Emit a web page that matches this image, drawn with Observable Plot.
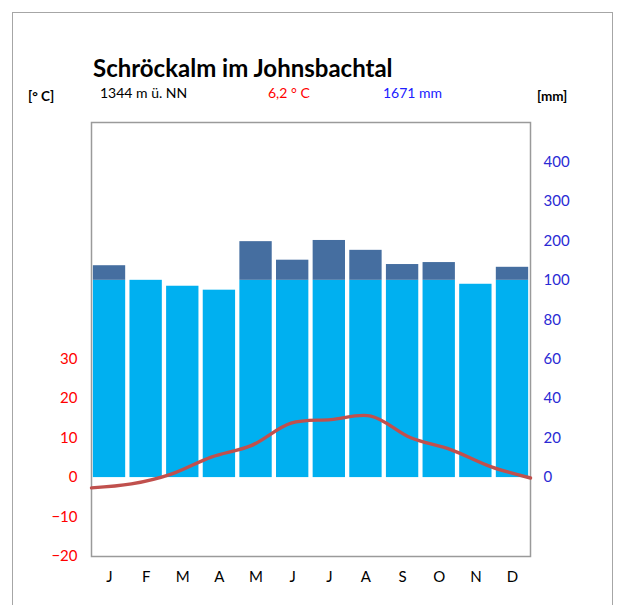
<!DOCTYPE html>
<html>
<head>
<meta charset="utf-8">
<script src="https://cdn.jsdelivr.net/npm/d3@7"></script>
<script src="https://cdn.jsdelivr.net/npm/@observablehq/plot@0.6"></script>
<style>
  html, body { margin: 0; padding: 0; background: white; }
  #wrap { position: relative; width: 620px; height: 605px; overflow: hidden; font-family: Lato, "Open Sans", sans-serif; }
  #border { position: absolute; left: 12px; top: 12px; width: 601px; height: 620px; border: 1px solid #a6a6a6; box-sizing: border-box; }
  .layer { position: absolute; left: 0; top: 0; }
  .txt { position: absolute; white-space: nowrap; line-height: 1; }
</style>
</head>
<body>
<div id="wrap">
  <div id="border"></div>
  <div id="base" class="layer"></div>
  <div id="over" class="layer"></div>
  <div class="txt" style="left:93px; top:56px; font-size:24px; font-weight:bold; color:#000;">Schröckalm im Johnsbachtal</div>
  <div class="txt" style="left:28px; top:90px; font-size:13.5px; font-weight:bold; color:#000;">[° C]</div>
  <div class="txt" style="left:100px; top:86px; font-size:14px; color:#000;">1344 m ü. NN</div>
  <div class="txt" style="left:268px; top:86px; font-size:14px; color:#ff0000;">6,2 ° C</div>
  <div class="txt" style="left:383px; top:86px; font-size:14px; color:#2020ff;">1671 mm</div>
  <div class="txt" style="left:537px; top:90px; font-size:13.5px; font-weight:bold; color:#000;">[mm]</div>
</div>
<script>
const months = ["Jan","Feb","Mar","Apr","May","Jun","Jul","Aug","Sep","Oct","Nov","Dec"];
const monthLabels = ["J","F","M","A","M","J","J","A","S","O","N","D"];
const precip = [137, 100, 97, 95, 198, 151, 201, 176, 140, 145, 98, 133];
const temp = [-2.6, -1.6, 0.9, 5.2, 8.1, 13.8, 14.7, 15.6, 10.1, 7.1, 2.8, -0.1];
const tempTicks = [-20, -10, 0, 10, 20, 30];
const precipTicks = [0, 20, 40, 60, 80, 100, 200, 300, 400];

// Walter-Lieth scaling: 10 °C = 20 mm up to 100 mm, compressed 1:10 above
const pDisp = p => p <= 100 ? p / 2 : 50 + (p - 100) / 10;

const rows = months.map((m, i) => ({
  month: m,
  i,
  p: precip[i],
  base: Math.min(precip[i], 100),
  t: temp[i]
}));

const W = 620, H = 605;
const margins = {marginLeft: 91, marginRight: 90, marginTop: 122, marginBottom: 49};
const yScale = {domain: [-20, 90]};

const base = Plot.plot({
  width: W, height: H, ...margins,
  style: {fontFamily: "Lato, 'Open Sans', sans-serif", background: "transparent"},
  x: {type: "band", domain: months, paddingInner: 0.117, paddingOuter: 0.05, round: false},
  y: yScale,
  marks: [
    Plot.barY(rows, {x: "month", y1: 0, y2: d => pDisp(d.base), fill: "#00b0f0"}),
    Plot.barY(rows.filter(d => d.p > 100), {x: "month", y1: d => pDisp(100), y2: d => pDisp(d.p), fill: "#456ea0"}),
    Plot.frame({stroke: "#9a9a9a", strokeWidth: 1.5}),
    Plot.axisY({anchor: "left", ticks: tempTicks, tickSize: 0, tickPadding: 14, color: "#ff0000", fontSize: 15, label: null}),
    Plot.axisY({anchor: "right", ticks: precipTicks.map(pDisp), tickFormat: (d, i) => precipTicks[i], tickSize: 0, tickPadding: 13, color: "#2a2ad4", fontSize: 15, label: null}),
    Plot.axisX({anchor: "bottom", tickSize: 0, tickPadding: 15, tickFormat: (d) => monthLabels[months.indexOf(d)], fontSize: 15, color: "#000", label: null})
  ]
});
document.getElementById("base").appendChild(base);

const over = Plot.plot({
  width: W, height: H, ...margins,
  style: {background: "transparent"},
  x: {type: "linear", domain: [0, 11], axis: null},
  y: {...yScale, axis: null},
  marks: [
    Plot.line(rows, {x: "i", y: "t", stroke: "#c0504d", strokeWidth: 3.4, curve: "catmull-rom"})
  ]
});
document.getElementById("over").appendChild(over);
</script>
</body>
</html>
